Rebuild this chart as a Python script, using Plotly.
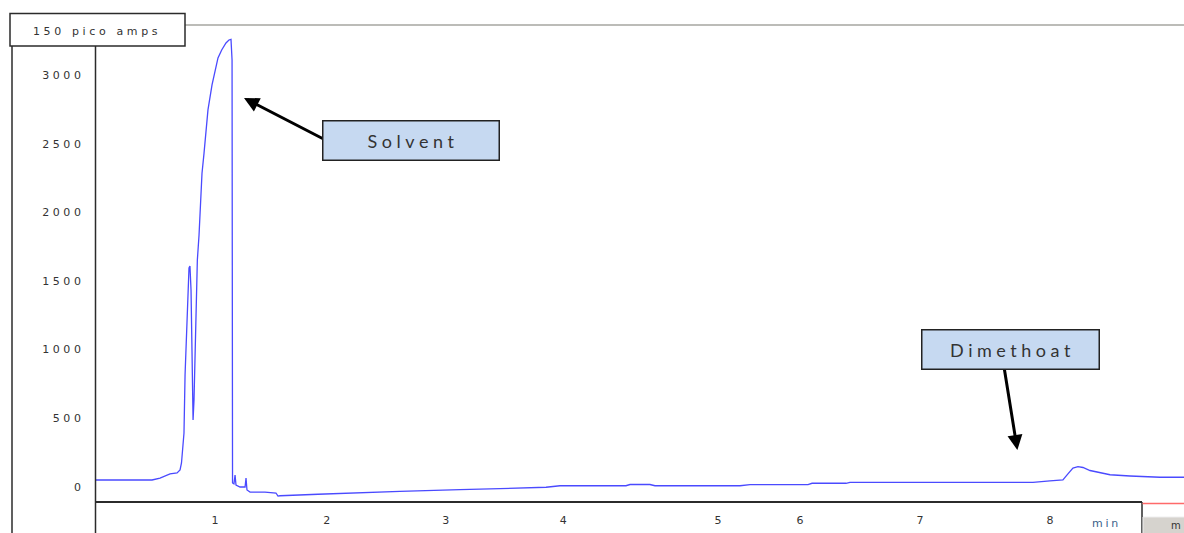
import plotly.graph_objects as go

# FID chromatogram: retention time (min) and detector signal (pA)
time_min = [
    0.000, 0.472, 0.539, 0.623, 0.682, 0.707, 0.719, 0.728, 0.740, 0.749,
    0.761, 0.774, 0.782, 0.790, 0.799, 0.807, 0.816, 0.824, 0.832, 0.841,
    0.852, 0.866, 0.880, 0.891, 0.908, 0.941, 0.975, 1.000, 1.025, 1.056,
    1.092, 1.117, 1.134, 1.143, 1.145, 1.147, 1.159, 1.168, 1.176, 1.210,
    1.252, 1.260, 1.268, 1.294, 1.419, 1.511, 1.528, 1.545, 1.864, 2.124,
    2.550, 3.054, 3.389, 3.775, 3.892, 4.445, 4.479, 4.646, 4.688, 5.401,
    5.485, 5.971, 6.005, 6.290, 6.323, 7.581, 7.857, 7.999, 8.108, 8.150,
    8.192, 8.234, 8.276, 8.335, 8.419, 8.503, 8.670, 8.922, 9.123,
]
signal_pa = [
    49, 49, 63, 93, 100, 122, 173, 253, 391, 814,
    1142, 1434, 1594, 1608, 1434, 996, 486, 632, 923, 1244,
    1652, 1833, 2090, 2285, 2431, 2746, 2928, 3037, 3125, 3183,
    3234, 3256, 3261, 3110, 1360, 27, 20, 85, 12, -2,
    -2, 63, -24, -39, -39, -46, -68, -66, -55, -46,
    -34, -22, -12, -4, 7, 7, 16, 16, 7, 7,
    15, 15, 25, 25, 31, 32, 32, 42, 49, 93,
    136, 146, 140, 118, 100, 87, 78, 69, 69,
]

y_tick_vals = [0, 500, 1000, 1500, 2000, 2500, 3000]
x_tick_labels = ["1", "2", "3", "4", "5", "6", "7", "8"]
x_tick_pos = [1.0, 1.936, 2.934, 3.920, 5.217, 5.904, 6.910, 8.0]

scale_label = "150 pico amps"
time_unit = "min"
solvent_label = "Solvent"
analyte_label = "Dimethoat"

W, H = 1184, 533
ML, MR, MT, MB = 95, 0, 25, 31
PW, PH = W - ML - MR, H - MT - MB

LINE_DARK = "#2b2b2b"
TEXT_DARK = "#333333"
AXIS_FONT = "DejaVu Sans"
BOX_FONT = "Lato"


def spaced(text, gap="\u2005"):
    """Letter-spaced rendering of a label."""
    return gap.join(text)


def px(x):
    """Page pixel column -> paper x."""
    return (x - ML) / PW


def py(y):
    """Page pixel row -> paper y."""
    return (H - MB - y) / PH


fig = go.Figure()
fig.add_trace(go.Scatter(
    x=time_min, y=signal_pa, mode="lines",
    line=dict(color="#4a4aff", width=1.3),
    hoverinfo="skip", showlegend=False,
))

shapes = [
    # top frame line
    dict(type="line", xref="paper", yref="paper", x0=px(185), x1=px(1184),
         y0=py(25), y1=py(25), line=dict(color="#bcbcb8", width=2)),
    # left label column
    dict(type="line", xref="paper", yref="paper", x0=px(12), x1=px(12),
         y0=py(46), y1=py(533), line=dict(color=LINE_DARK, width=1.5)),
    dict(type="line", xref="paper", yref="paper", x0=px(95.5), x1=px(95.5),
         y0=py(46), y1=py(533), line=dict(color=LINE_DARK, width=1.5)),
    # scale box
    dict(type="rect", xref="paper", yref="paper", x0=px(10), x1=px(185),
         y0=py(46), y1=py(13.5), fillcolor="white",
         line=dict(color=LINE_DARK, width=1.5)),
    # time axis baseline and its box
    dict(type="line", xref="paper", yref="paper", x0=px(95), x1=px(1142),
         y0=py(502), y1=py(502), line=dict(color=LINE_DARK, width=1.8)),
    dict(type="line", xref="paper", yref="paper", x0=px(1142), x1=px(1142),
         y0=py(502), y1=py(533), line=dict(color=LINE_DARK, width=1.5)),
    dict(type="line", xref="paper", yref="paper", x0=px(1142.5), x1=px(1184),
         y0=py(503.5), y1=py(503.5), line=dict(color="#ff6a6a", width=1.5)),
    dict(type="rect", xref="paper", yref="paper", x0=px(1143), x1=px(1185),
         y0=py(534), y1=py(517), fillcolor="#d6d3ce",
         line=dict(color="#eeeeee", width=1)),
]

annotations = [
    dict(xref="paper", yref="paper", x=px(95), y=py(31), text=spaced(scale_label, "\u2004"),
         showarrow=False, xanchor="center", yanchor="middle",
         font=dict(family=AXIS_FONT, size=11, color=TEXT_DARK)),
    dict(xref="paper", yref="paper", x=px(1105), y=py(523.5), text=spaced(time_unit),
         showarrow=False, xanchor="center", yanchor="middle",
         font=dict(family=AXIS_FONT, size=11, color="#3b5f8a")),
    dict(xref="paper", yref="paper", x=px(1176), y=py(525.5), text="m",
         showarrow=False, xanchor="center", yanchor="middle",
         font=dict(family=AXIS_FONT, size=10, color=TEXT_DARK)),
    # arrows
    dict(x=1.243, y=2833, ax=1.914, ay=2532, xref="x", yref="y", axref="x", ayref="y",
         text="", showarrow=True, arrowhead=2, arrowsize=1, arrowwidth=3,
         arrowcolor="#000000", standoff=0),
    dict(x=7.726, y=268, ax=7.614, ay=875, xref="x", yref="y", axref="x", ayref="y",
         text="", showarrow=True, arrowhead=2, arrowsize=1, arrowwidth=3,
         arrowcolor="#000000", standoff=0),
    # peak label boxes
    dict(x=2.647, y=2525, xref="x", yref="y", text=spaced(solvent_label),
         showarrow=False, xanchor="center", yanchor="middle",
         font=dict(family=BOX_FONT, size=18, color="#333333"),
         bgcolor="#c6d9f1", bordercolor="#222222", borderwidth=1.5, borderpad=0,
         width=175, height=38),
    dict(x=7.668, y=1000, xref="x", yref="y", text=spaced(analyte_label),
         showarrow=False, xanchor="center", yanchor="middle",
         font=dict(family=BOX_FONT, size=18, color="#333333"),
         bgcolor="#c6d9f1", bordercolor="#222222", borderwidth=1.5, borderpad=0,
         width=176, height=38),
]

fig.update_layout(
    width=W, height=H,
    margin=dict(l=ML, r=MR, t=MT, b=MB),
    paper_bgcolor="white", plot_bgcolor="white",
    shapes=shapes, annotations=annotations,
    xaxis=dict(
        range=[-0.006, 9.123], showgrid=False, zeroline=False, showline=False,
        ticks="", tickmode="array", tickvals=x_tick_pos,
        ticktext=x_tick_labels, ticklabelstandoff=10,
        tickfont=dict(family=AXIS_FONT, size=11, color=TEXT_DARK),
    ),
    yaxis=dict(
        range=[-111.5, 3365], showgrid=False, zeroline=False, showline=False,
        ticks="", tickmode="array", tickvals=y_tick_vals,
        ticktext=[spaced(str(v), "\u2004") for v in y_tick_vals], ticklabelstandoff=13,
        tickfont=dict(family=AXIS_FONT, size=11, color=TEXT_DARK),
    ),
)

fig.write_html("out.html")
